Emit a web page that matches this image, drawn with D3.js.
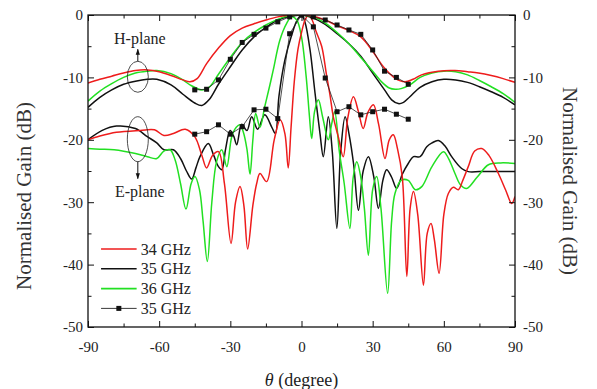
<!DOCTYPE html>
<html>
<head>
<meta charset="utf-8">
<script src="https://cdn.jsdelivr.net/npm/d3@7"></script>
<style>
  body { margin: 0; background: #fff; }
  svg { display: block; }
</style>
</head>
<body>
<div id="chart"></div>
<script>
// H-plane, simulated (theta in degree, gain in dB)
const h34 = [[-90,-10.9],[-85,-10.3],[-80,-9.8],[-75,-9.3],[-70,-8.9],[-65,-8.8],[-60,-9.1],[-55,-9.7],[-50,-10.4],[-47,-10.7],[-44,-10.2],[-40,-7.8],[-35,-5.3],[-30,-3.3],[-25,-2.1],[-20,-1.4],[-15,-0.8],[-10,-0.3],[-5,0],[0,0],[5,-0.2],[10,-0.8],[15,-1.7],[20,-2.5],[25,-3.5],[30,-5.8],[34.5,-8.3],[39.4,-10.1],[43.6,-10.7],[47,-10.3],[50.6,-9.6],[57.7,-9],[64.7,-8.9],[70,-9.1],[74.6,-9.3],[80,-9.7],[85,-10.2],[90,-10.8]];
const h35 = [[-90,-14.8],[-85,-13.2],[-80,-12],[-75,-11.1],[-70,-10.6],[-65,-10.3],[-61,-10.3],[-55,-11.2],[-50,-12.7],[-45,-14.1],[-42,-14.5],[-39,-13.6],[-35,-11.1],[-30,-8.3],[-25,-5.6],[-20,-3.5],[-15,-2],[-10,-0.8],[-5,-0.2],[0,0],[5,-0.5],[10,-1.5],[15,-3],[20,-4.6],[25,-6.6],[30,-9.3],[35,-12],[38,-13.6],[40.8,-14.2],[43,-14],[45.7,-13.1],[50,-11.6],[55,-10.7],[60,-10.3],[65,-10.4],[70,-10.8],[75,-11.5],[80,-12.3],[85,-13.2],[90,-14.4]];
const h36 = [[-90,-13.8],[-85,-12.2],[-80,-11],[-75,-10],[-70,-9.3],[-65,-9],[-61,-8.9],[-55,-9.4],[-50,-10.4],[-47,-11.2],[-42,-12],[-39,-11.6],[-35,-9.5],[-30,-6.8],[-25,-4.4],[-20,-2.8],[-15,-1.6],[-10,-0.7],[-5,-0.1],[0,0],[5,-0.3],[10,-1.3],[15,-2.8],[20,-4.6],[25,-6.8],[30,-9],[34,-10.8],[37,-11.7],[39.5,-11.9],[42,-11.8],[45.7,-11.2],[50,-10],[55,-9.3],[60,-9],[65,-9.1],[70,-9.6],[75,-10.5],[80,-11.5],[85,-12.6],[90,-14]];

// E-plane, simulated
const e34 = [[-90,-20],[-85,-19.4],[-78,-18.8],[-68,-18.5],[-62,-18.4],[-58,-19.3],[-54,-19],[-49,-18.3],[-45,-19.5],[-42,-22.5],[-40,-24.5],[-37.5,-22.5],[-35,-21.9],[-32.5,-27],[-29.7,-36.6],[-27.8,-30],[-25.9,-27.5],[-24.3,-30.5],[-22.7,-37.5],[-20.5,-30.5],[-18.9,-27],[-17.5,-25.4],[-14.7,-26.7],[-11.5,-20],[-9,-16.8],[-7,-19],[-5.6,-24.5],[-4.4,-18],[-3,-10.5],[-1.5,-5.5],[0,-2.8],[1.5,-0.8],[3,0],[4.5,-0.8],[6,-2.5],[8.5,-5],[10.5,-9.5],[12,-12.8],[13.5,-16.5],[15.5,-19.5],[17.6,-22.7],[19.5,-16.5],[21.9,-13.1],[24,-15.5],[26,-18.2],[28,-15.6],[30.3,-14.4],[32.5,-17.5],[35.2,-23],[37,-20],[38.7,-19.2],[40.5,-21.5],[42.5,-26],[44.4,-41.9],[45.8,-31],[47.2,-28.3],[49,-32],[51.4,-43.3],[53,-35],[54.6,-33.4],[56,-36],[58,-41.4],[60,-32],[61.9,-28.6],[64,-27.6],[66.1,-28],[68,-26.5],[70.3,-24.3],[73,-21.8],[76,-21.4],[79,-22.5],[83,-25.4],[86,-28],[88.6,-30.2],[90,-29.1]];
const e35 = [[-90,-20],[-84,-18.5],[-78,-17.8],[-70,-18.2],[-65,-19.5],[-61,-20.5],[-58,-21.6],[-54,-21.6],[-51,-23],[-48.5,-25],[-46.3,-26.3],[-44.5,-24.5],[-42.8,-22.7],[-39.3,-20.6],[-37,-22.5],[-35,-24.3],[-33.6,-24.8],[-32,-21.5],[-30.1,-18.5],[-28.5,-19.5],[-27.3,-20.8],[-25.2,-17.5],[-23,-18.5],[-21,-16.3],[-18.5,-18.3],[-15.5,-16],[-12.5,-18],[-11,-19],[-9.5,-13],[-7,-7.2],[-4.2,-3.3],[-1.8,-0.8],[0,0],[1.5,-1.2],[3.6,-5.6],[5.7,-12.5],[7.8,-19],[9.2,-22.7],[11.3,-16.3],[13,-22],[14.9,-34.2],[16.5,-22],[18.4,-16.3],[20,-19],[22,-24],[24,-31.3],[26,-25],[28.2,-22.7],[30.5,-26],[32.4,-31],[34.3,-26.5],[35.9,-24.8],[38,-26],[40.1,-27.8],[42.5,-25.5],[45,-23.8],[47.2,-22.7],[50,-22.7],[52.8,-21.1],[55,-20.5],[57.7,-20.1],[60.5,-21],[63.3,-22.7],[67.5,-24.6],[70.3,-25.1],[75,-25.1],[80,-25.1],[90,-25.1]];
const e36 = [[-90,-21.4],[-85,-21.5],[-79,-21.6],[-70,-22.2],[-65,-22.7],[-61,-23],[-58,-21.8],[-55.4,-21.6],[-53.3,-23.2],[-51,-27],[-48.7,-31.1],[-46.5,-27],[-44.9,-25.9],[-43,-28],[-41.5,-33],[-39.7,-39.5],[-37.8,-30],[-35.8,-23.5],[-33.6,-21.6],[-31.5,-24.3],[-29.4,-19.5],[-27.5,-18],[-25.9,-17.6],[-24.5,-18.8],[-23,-21.5],[-21.7,-25.5],[-20.5,-20],[-19.3,-15.8],[-17.5,-18],[-15.5,-14.7],[-13.5,-11.5],[-11.9,-8.8],[-9.1,-4],[-6.2,-1.3],[-4.2,-0.3],[-2,-0.8],[0,-3.5],[2,-10],[3.3,-16],[4.3,-19.8],[5.5,-15.5],[7.1,-13.6],[9,-16.5],[11.3,-20],[12.7,-17.5],[14,-15.5],[16,-22],[18,-27],[20.4,-34.2],[21.8,-26],[23.3,-23.5],[25,-26],[26.5,-31],[28.2,-38.5],[30,-28],[31.7,-25.9],[33.5,-31],[36.3,-44.6],[38,-33],[39.4,-28.6],[42,-26.5],[45,-26.5],[48,-28],[50.7,-27.5],[55,-24.3],[59.8,-21.9],[62,-23],[64.7,-25.4],[67,-27.2],[69.6,-27.8],[74,-26],[78.8,-24],[84,-23.7],[90,-23.8]];

// measured at 35 GHz (squares)
const mH = [[-45,-12],[-40,-11.9],[-35,-10.4],[-30,-7.1],[-25,-4.4],[-20,-3.1],[-15,-2.1],[-10,-1.1],[-5,-0.3],[0,0],[5,-0.3],[10,-0.8],[15,-1.6],[20,-2.4],[25,-3.1],[30,-5.6],[35,-9],[40,-10],[45,-11.1]];
const mE = [[-45,-19.1],[-40,-18.7],[-35,-17.6],[-30,-19.1],[-25,-17.9],[-20,-15.2],[-15,-15.1],[-10,-16.6],[-5,-3],[0,0],[5,-1.9],[10,-10.1],[15,-15.5],[20,-14.7],[25,-16],[30,-15.5],[35,-15.1],[40,-15.9],[45,-16.7]];

const xTicks = [-90, -60, -30, 0, 30, 60, 90];
const yTicks = [0, -10, -20, -30, -40, -50];
const legendLabels = ['34 GHz', '35 GHz', '36 GHz', '35 GHz'];

const width = 597, height = 389;
const margin = { top: 15, right: 82, bottom: 62, left: 88 };
const red = '#ee1c1c', green = '#22e022', black = '#111';
const SERIF = '"Liberation Serif", Tinos, "Times New Roman", Times, "DejaVu Serif", serif';

const svg = d3.select('#chart').append('svg')
  .attr('width', width)
  .attr('height', height)
  .attr('font-family', SERIF);

const x = d3.scaleLinear().domain([-90, 90]).range([margin.left, width - margin.right]);
const y = d3.scaleLinear().domain([-50, 0]).range([height - margin.bottom, margin.top]);

// clip so curves stay in the frame
svg.append('clipPath').attr('id', 'plot-clip')
  .append('rect')
  .attr('x', x(-90)).attr('y', y(0))
  .attr('width', x(90) - x(-90)).attr('height', y(-50) - y(0));

const line = d3.line()
  .x(d => x(d[0]))
  .y(d => y(d[1]))
  .curve(d3.curveCatmullRom.alpha(0.5));

const plot = svg.append('g').attr('clip-path', 'url(#plot-clip)');

const series = [
  { data: e35, color: black }, { data: e36, color: green }, { data: e34, color: red },
  { data: h35, color: black }, { data: h36, color: green }, { data: h34, color: red }
];
plot.selectAll('path.sim')
  .data(series)
  .join('path')
  .attr('class', 'sim')
  .attr('d', d => line(d.data))
  .attr('fill', 'none')
  .attr('stroke', d => d.color)
  .attr('stroke-width', 1.5);

// measured data: thin line + squares
const lineLin = d3.line().x(d => x(d[0])).y(d => y(d[1]));
[mH, mE].forEach(m => {
  plot.append('path')
    .attr('d', lineLin(m))
    .attr('fill', 'none')
    .attr('stroke', '#222')
    .attr('stroke-width', 0.8);
  plot.append('g').selectAll('rect')
    .data(m)
    .join('rect')
    .attr('x', d => x(d[0]) - 2.5)
    .attr('y', d => y(d[1]) - 2.5)
    .attr('width', 5).attr('height', 5)
    .attr('fill', '#111');
});

// axes: ticks point inward on all four sides
const fmt = d => d3.format('d')(d).replace('−', '-');
const axes = svg.append('g').attr('class', 'axes');

function xAxis(g, orient, showLabels) {
  const ax = (orient === 'bottom' ? d3.axisBottom(x) : d3.axisTop(x));
  ax.tickValues(d3.range(-90, 91, 15))
    .tickSizeInner(-5)
    .tickSizeOuter(0)
    .tickFormat(d => (showLabels && xTicks.includes(d)) ? fmt(d) : '');
  g.call(ax);
  g.selectAll('.tick line')
    .attr('y2', d => (xTicks.includes(d) ? 6 : 3.5) * (orient === 'bottom' ? -1 : 1));
  g.selectAll('.tick text')
    .attr('y', 25)
    .attr('dy', null);
}
function yAxis(g, orient) {
  const ax = (orient === 'left' ? d3.axisLeft(y) : d3.axisRight(y));
  ax.tickValues(d3.range(-50, 1, 5))
    .tickSizeInner(-5)
    .tickSizeOuter(0)
    .tickFormat(d => yTicks.includes(d) ? fmt(d) : '');
  g.call(ax);
  g.selectAll('.tick line')
    .attr('x2', d => (yTicks.includes(d) ? 6 : 3.5) * (orient === 'left' ? 1 : -1));
  g.selectAll('.tick text')
    .attr('x', orient === 'left' ? -5 : 8);
}

axes.append('g').attr('transform', `translate(0,${y(-50)})`).call(g => xAxis(g, 'bottom', true));
axes.append('g').attr('transform', `translate(0,${y(0)})`).call(g => xAxis(g, 'top', false));
axes.append('g').attr('transform', `translate(${x(-90)},0)`).call(g => yAxis(g, 'left'));
axes.append('g').attr('transform', `translate(${x(90)},0)`).call(g => yAxis(g, 'right'));

axes.selectAll('g').attr('font-family', SERIF).attr('font-size', 15);
axes.selectAll('.domain').remove();
axes.selectAll('.tick line').attr('stroke', '#111').attr('stroke-width', 1);
axes.selectAll('.tick text').attr('fill', '#222');

// frame
svg.append('rect')
  .attr('x', x(-90)).attr('y', y(0))
  .attr('width', x(90) - x(-90)).attr('height', y(-50) - y(0))
  .attr('fill', 'none')
  .attr('stroke', '#111')
  .attr('stroke-width', 1.3);

// axis titles
svg.append('text')
  .attr('transform', `translate(31,196) rotate(-90)`)
  .attr('text-anchor', 'middle')
  .attr('font-size', 21)
  .attr('fill', '#333')
  .text('Normalised Gain (dB)');

svg.append('text')
  .attr('transform', `translate(563,181) rotate(90)`)
  .attr('text-anchor', 'middle')
  .attr('font-size', 21)
  .attr('fill', '#333')
  .text('Normalised Gain (dB)');

const xt = svg.append('text')
  .attr('x', x(0))
  .attr('y', 386)
  .attr('text-anchor', 'middle')
  .attr('font-size', 18)
  .attr('fill', '#222');
xt.append('tspan').attr('font-style', 'italic').text('θ');
xt.append('tspan').text(' (degree)');

// legend
const legend = svg.append('g');
const legendItems = [
  { label: legendLabels[0], color: red, marker: false },
  { label: legendLabels[1], color: black, marker: false },
  { label: legendLabels[2], color: green, marker: false },
  { label: legendLabels[3], color: '#222', marker: true }
];
const lx0 = x(-84.5), lx1 = x(-69.5);
legendItems.forEach((it, i) => {
  const ly = 249 + i * 19.8;
  legend.append('line')
    .attr('x1', lx0).attr('x2', lx1)
    .attr('y1', ly).attr('y2', ly)
    .attr('stroke', it.color)
    .attr('stroke-width', it.marker ? 0.9 : 1.6);
  if (it.marker) {
    legend.append('rect')
      .attr('x', (lx0 + lx1) / 2 - 2.5).attr('y', ly - 2.5)
      .attr('width', 5).attr('height', 5)
      .attr('fill', '#111');
  }
  legend.append('text')
    .attr('x', lx1 + 4)
    .attr('y', ly + 5.5)
    .attr('font-size', 16)
    .attr('fill', '#222')
    .text(it.label);
});

// plane annotations
const defs = svg.append('defs');
defs.append('marker')
  .attr('id', 'arrow')
  .attr('viewBox', '0 0 10 10')
  .attr('refX', 9).attr('refY', 5)
  .attr('markerWidth', 6).attr('markerHeight', 6)
  .attr('orient', 'auto')
  .append('path')
  .attr('d', 'M0,1.5 L10,5 L0,8.5 Z')
  .attr('fill', '#111');

const notes = [
  { label: 'H-plane', theta: -69, gain: -9.9, ry: 15.5, dir: -1, len: 12, ty: 44 },
  { label: 'E-plane', theta: -69, gain: -19.9, ry: 22.5, dir: 1, len: 17, ty: 197 }
];
notes.forEach(n => {
  const cx = x(n.theta), cy = y(n.gain);
  svg.append('ellipse')
    .attr('cx', cx).attr('cy', cy)
    .attr('rx', 10.5).attr('ry', n.ry)
    .attr('fill', 'none')
    .attr('stroke', '#222')
    .attr('stroke-width', 0.8);
  const y0 = cy + n.dir * n.ry;
  svg.append('line')
    .attr('x1', cx).attr('x2', cx)
    .attr('y1', y0).attr('y2', y0 + n.dir * n.len)
    .attr('stroke', '#111')
    .attr('stroke-width', 1)
    .attr('marker-end', 'url(#arrow)');
  svg.append('text')
    .attr('x', cx + 2)
    .attr('y', n.ty)
    .attr('text-anchor', 'middle')
    .attr('font-size', 16)
    .attr('fill', '#222')
    .text(n.label);
});
</script>
</body>
</html>
